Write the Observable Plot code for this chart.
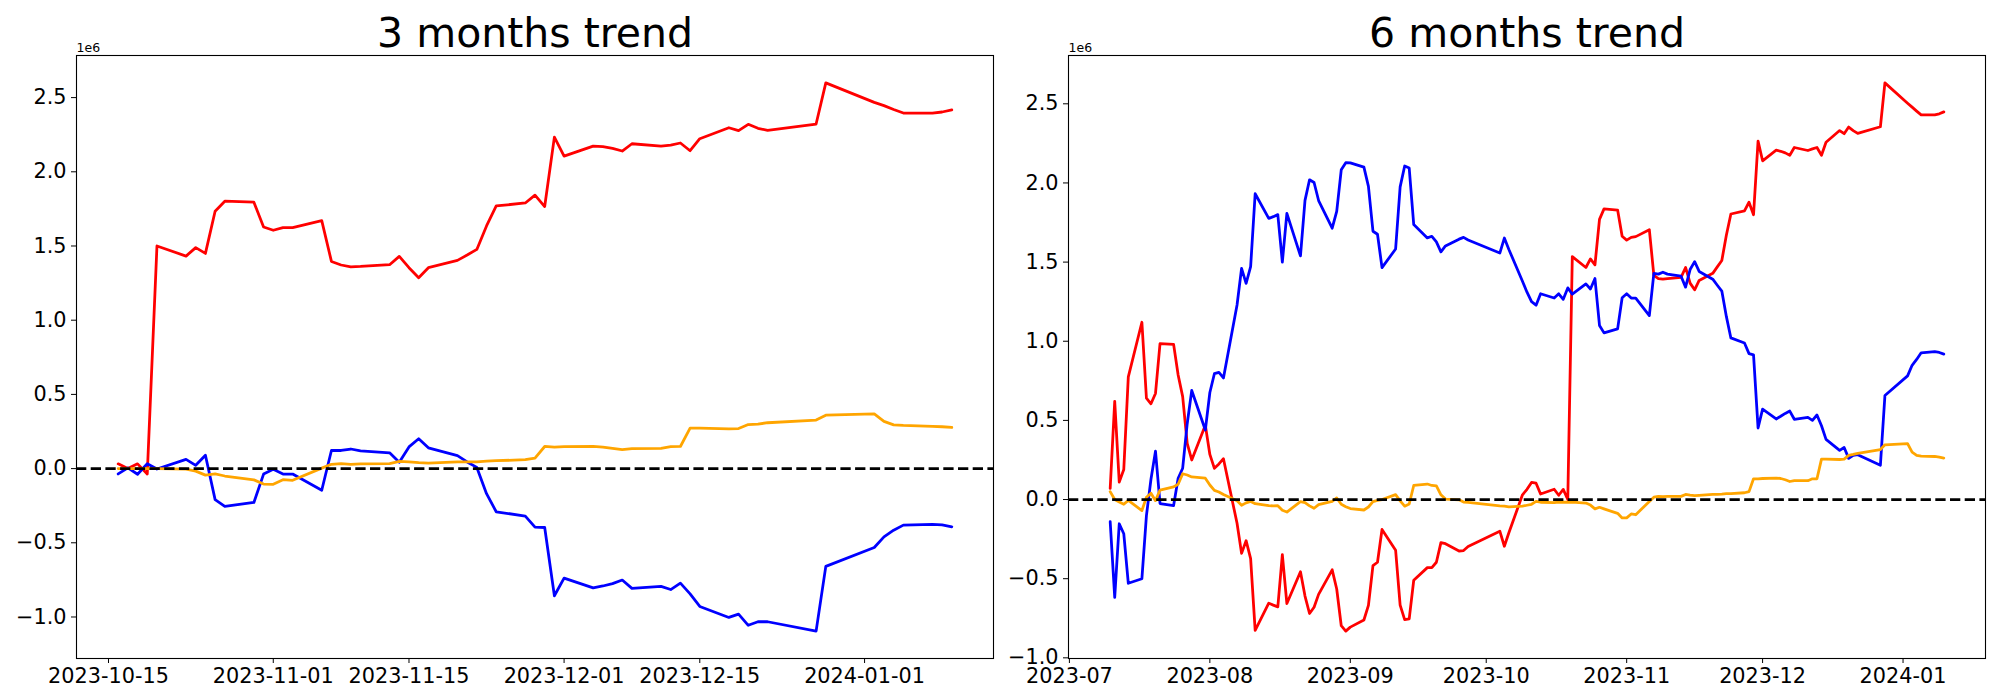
<!DOCTYPE html>
<html><head><meta charset="utf-8">
<script src="https://cdn.jsdelivr.net/npm/d3@7"></script>
<script src="https://cdn.jsdelivr.net/npm/@observablehq/plot@0.6"></script>
<style>
body{margin:0;background:#fff;}
#wrap{display:flex;width:2000px;height:700px;}
#wrap > div{width:1000px;height:700px;}
svg{display:block}
</style></head><body><div id="wrap"><div id="p3"></div><div id="p6"></div></div>
<script>
// ---------- 3 months panel ----------
const dates3 = ["2023-10-16","2023-10-17","2023-10-18","2023-10-19","2023-10-20","2023-10-23","2023-10-24","2023-10-25","2023-10-26","2023-10-27","2023-10-30","2023-10-31",
"2023-11-01","2023-11-02","2023-11-03","2023-11-06","2023-11-07","2023-11-08","2023-11-09","2023-11-10","2023-11-13","2023-11-14","2023-11-15","2023-11-16","2023-11-17","2023-11-20","2023-11-21","2023-11-22","2023-11-23","2023-11-24","2023-11-27","2023-11-28","2023-11-29","2023-11-30",
"2023-12-01","2023-12-04","2023-12-05","2023-12-06","2023-12-07","2023-12-08","2023-12-11","2023-12-12","2023-12-13","2023-12-14","2023-12-15","2023-12-18","2023-12-19","2023-12-20","2023-12-21","2023-12-22","2023-12-27","2023-12-28",
"2024-01-02","2024-01-03","2024-01-04","2024-01-05","2024-01-08","2024-01-09","2024-01-10"];
const red3 = [0.032,0.0,0.032,-0.036,1.50, 1.432,1.489,1.45,1.734,1.802, 1.795,1.628,
1.606,1.624,1.624, 1.671,1.396,1.372,1.36,1.362, 1.374,1.43,1.354,1.286,1.354, 1.403,1.439,1.477,1.635,1.77, 1.79,1.843,1.766,2.234,
2.106, 2.173,2.169,2.158,2.14,2.189, 2.173,2.18,2.194,2.142,2.223, 2.297,2.277,2.32,2.293,2.279, 2.322,2.599,
2.468,2.446,2.42,2.396, 2.396,2.403,2.417];
const blue3 = [-0.036,0.005,-0.038,0.033,-0.003, 0.062,0.022,0.09,-0.209,-0.254, -0.228,-0.037,
-0.005,-0.037,-0.037, -0.146,0.122,0.122,0.132,0.119, 0.106,0.042,0.146,0.201,0.14, 0.087,0.045,0.008,-0.169,-0.291, -0.32,-0.394,-0.397,-0.857,
-0.738, -0.804,-0.791,-0.775,-0.751,-0.807, -0.794,-0.815,-0.772,-0.844,-0.929, -1.003,-0.981,-1.056,-1.032,-1.032, -1.095,-0.659,
-0.532,-0.46,-0.415,-0.381, -0.376,-0.38,-0.392];
const orange3 = [0,0,0,0,0, -0.003,-0.017,-0.044,-0.036,-0.05, -0.076,-0.104,
-0.106,-0.075,-0.079, 0.003,0.029,0.034,0.029,0.032, 0.034,0.048,0.045,0.04,0.037, 0.045,0.046,0.046,0.05,0.053, 0.06,0.071,0.149,0.144,
0.148, 0.149,0.144,0.136,0.128,0.135, 0.137,0.148,0.149,0.273,0.272, 0.268,0.27,0.297,0.3,0.309, 0.327,0.36,
0.369,0.318,0.295,0.291, 0.284,0.282,0.277];
const xticks3 = ["2023-10-15","2023-11-01","2023-11-15","2023-12-01","2023-12-15","2024-01-01"];
const yticks3 = [-1.0,-0.5,0.0,0.5,1.0,1.5,2.0,2.5];

// ---------- 6 months panel ----------
const dates6 = ["2023-07-10","2023-07-11","2023-07-12","2023-07-13","2023-07-14","2023-07-17","2023-07-18","2023-07-19","2023-07-20","2023-07-21","2023-07-24","2023-07-25","2023-07-26","2023-07-27","2023-07-28","2023-07-31",
"2023-08-01","2023-08-02","2023-08-03","2023-08-04","2023-08-07","2023-08-08","2023-08-09","2023-08-10","2023-08-11","2023-08-14","2023-08-15","2023-08-16","2023-08-17","2023-08-18","2023-08-21","2023-08-22","2023-08-23","2023-08-24","2023-08-25","2023-08-28","2023-08-29","2023-08-30","2023-08-31",
"2023-09-01","2023-09-04","2023-09-05","2023-09-06","2023-09-07","2023-09-08","2023-09-11","2023-09-12","2023-09-13","2023-09-14","2023-09-15","2023-09-18","2023-09-19","2023-09-20","2023-09-21","2023-09-22","2023-09-25","2023-09-26","2023-09-27",
"2023-10-04","2023-10-05","2023-10-06","2023-10-09","2023-10-10","2023-10-11","2023-10-12","2023-10-13","2023-10-16","2023-10-17","2023-10-18","2023-10-19","2023-10-20","2023-10-23","2023-10-24","2023-10-25","2023-10-26","2023-10-27","2023-10-30","2023-10-31",
"2023-11-01","2023-11-02","2023-11-03","2023-11-06","2023-11-07","2023-11-08","2023-11-09","2023-11-10","2023-11-13","2023-11-14","2023-11-15","2023-11-16","2023-11-17","2023-11-20","2023-11-21","2023-11-22","2023-11-23","2023-11-24","2023-11-27","2023-11-28","2023-11-29","2023-11-30",
"2023-12-01","2023-12-04","2023-12-05","2023-12-06","2023-12-07","2023-12-08","2023-12-11","2023-12-12","2023-12-13","2023-12-14","2023-12-15","2023-12-18","2023-12-19","2023-12-20","2023-12-21","2023-12-22","2023-12-27","2023-12-28",
"2024-01-02","2024-01-03","2024-01-04","2024-01-05","2024-01-08","2024-01-09","2024-01-10"];
const red6 = [0.07,0.62,0.11,0.19,0.775, 1.12,0.64,0.605,0.67,0.985, 0.98,0.787,0.65,0.355,0.25, 0.47,
0.285,0.197,0.225,0.258, -0.15,-0.34,-0.26,-0.373,-0.826, -0.655,-0.667,-0.678,-0.348,-0.657, -0.456,-0.61,-0.72,-0.68,-0.599, -0.444,-0.565,-0.797,-0.831,
-0.806, -0.761,-0.669,-0.418,-0.396,-0.189, -0.32,-0.667,-0.759,-0.754,-0.51, -0.43,-0.43,-0.396,-0.272,-0.279, -0.325,-0.322,-0.297,
-0.2,-0.295,-0.21, 0.03,0.065,0.108,0.103,0.035, 0.065,0.027,0.064,0.0,1.535, 1.466,1.52,1.483,1.77,1.836, 1.829,1.663,
1.639,1.656,1.661, 1.705,1.416,1.396,1.392,1.396, 1.404,1.466,1.367,1.325,1.384, 1.429,1.47,1.51,1.67,1.804, 1.824,1.878,1.799,2.264,
2.14, 2.207,2.2,2.19,2.175,2.224, 2.205,2.215,2.224,2.175,2.257, 2.331,2.311,2.353,2.331,2.313, 2.355,2.632,
2.504,2.479,2.454,2.43, 2.43,2.437,2.449];
const blue6 = [-0.14,-0.618,-0.153,-0.216,-0.529, -0.5,-0.102,0.128,0.306,-0.025, -0.038,0.134,0.198,0.479,0.689, 0.439,
0.676,0.795,0.803,0.768, 1.229,1.46,1.366,1.471,1.932, 1.776,1.787,1.80,1.50,1.808, 1.539,1.89,2.02,2.003,1.889, 1.714,1.82,2.083,2.128,
2.127, 2.10,1.978,1.695,1.676,1.465, 1.583,1.975,2.107,2.094,1.737, 1.653,1.663,1.628,1.565,1.602, 1.645,1.656,1.64,
1.557,1.652,1.58, 1.379,1.31,1.25,1.228,1.30, 1.273,1.30,1.265,1.337,1.298, 1.362,1.33,1.396,1.10,1.053, 1.078,1.275,
1.30,1.273,1.273, 1.162,1.429,1.424,1.436,1.424, 1.411,1.342,1.453,1.503,1.441, 1.392,1.354,1.317,1.157,1.021, 0.989,0.922,0.914,0.452,
0.571, 0.509,0.526,0.544,0.559,0.507, 0.519,0.50,0.534,0.466,0.38, 0.311,0.329,0.26,0.279,0.283, 0.217,0.657,
0.781,0.848,0.885,0.927, 0.934,0.929,0.919];
const orange6 = [0.05,0.0,-0.016,-0.03,-0.005, -0.07,0.015,0.04,-0.007,0.06, 0.08,0.097,0.163,0.155,0.143, 0.135,
0.092,0.058,0.048,0.032, -0.008,-0.036,-0.021,-0.012,-0.026, -0.039,-0.04,-0.039,-0.068,-0.079, -0.013,-0.02,-0.04,-0.055,-0.032, -0.012,0.01,-0.03,-0.045,
-0.057, -0.066,-0.047,-0.013,-0.005,0.0, 0.031,-0.008,-0.042,-0.028,0.089, 0.098,0.089,0.086,0.03,0.003, -0.002,-0.016,-0.018,
-0.04,-0.042,-0.046, -0.042,-0.036,-0.03,-0.012,-0.017, -0.02,-0.017,-0.017,-0.017,-0.017, -0.022,-0.035,-0.059,-0.049,-0.059, -0.087,-0.116,
-0.116,-0.091,-0.096, -0.012,0.015,0.02,0.018,0.02, 0.02,0.032,0.028,0.025,0.027, 0.032,0.033,0.034,0.037,0.038, 0.043,0.05,0.131,0.131,
0.133, 0.136,0.133,0.125,0.114,0.119, 0.119,0.131,0.131,0.255,0.255, 0.253,0.255,0.279,0.285,0.292, 0.316,0.346,
0.353,0.299,0.279,0.275, 0.272,0.268,0.262];
const xticks6 = ["2023-07-01","2023-08-01","2023-09-01","2023-10-01","2023-11-01","2023-12-01","2024-01-01"];
const yticks6 = [-1.0,-0.5,0.0,0.5,1.0,1.5,2.0,2.5];

const seriesColors = ["red","blue","orange"];

function panel({dates, values, title, xticks, xfmt, yticks, marginLeft, marginRight}) {
  const parse = d3.utcParse("%Y-%m-%d");
  const ds = dates.map(parse);
  const all = values.flat();
  const ymin = d3.min(all), ymax = d3.max(all), yp = 0.05 * (ymax - ymin);
  const t0 = ds[0], t1 = ds[ds.length - 1], tp = 0.05 * (t1 - t0);
  const marks = [
    ...values.map((vals, k) => Plot.line(ds.map((d, i) => ({date: d, v: vals[i]})),
      {x: "date", y: "v", stroke: seriesColors[k], strokeWidth: 2.78})),
    Plot.ruleY([0], {stroke: "black", strokeWidth: 2.78, strokeDasharray: "10.3,4.4"}),
    Plot.frame({stroke: "black", strokeWidth: 1.1}),
    Plot.axisX({ticks: xticks.map(parse), tickFormat: d3.utcFormat(xfmt), tickSize: 5, tickPadding: 5, fontSize: 20.8, label: null}),
    Plot.axisY({ticks: yticks, tickFormat: d3.format(".1f"), tickSize: 5, tickPadding: 5, fontSize: 20.8, label: null}),
    Plot.text([title], {text: d => d, frameAnchor: "top", lineAnchor: "bottom", dy: -9, fontSize: 41}),
    Plot.text(["1e6"], {text: d => d, frameAnchor: "top-left", textAnchor: "start", lineAnchor: "bottom", dy: -4, fontSize: 12.5})
  ];
  return Plot.plot({
    width: 1000, height: 700, marginLeft, marginRight, marginTop: 55, marginBottom: 42,
    x: {type: "utc", domain: [new Date(+t0 - tp), new Date(+t1 + tp)]},
    y: {domain: [ymin - yp, ymax + yp]},
    style: {fontFamily: "DejaVu Sans", fontSize: "20.8px", background: "white", color: "black", overflow: "visible"},
    marks
  });
}

document.getElementById("p3").appendChild(panel({
  dates: dates3, values: [red3, blue3, orange3], title: "3 months trend",
  xticks: xticks3, xfmt: "%Y-%m-%d", yticks: yticks3, marginLeft: 76, marginRight: 7
}));
document.getElementById("p6").appendChild(panel({
  dates: dates6, values: [red6, blue6, orange6], title: "6 months trend",
  xticks: xticks6, xfmt: "%Y-%m", yticks: yticks6, marginLeft: 68, marginRight: 15
}));
</script></body></html>
